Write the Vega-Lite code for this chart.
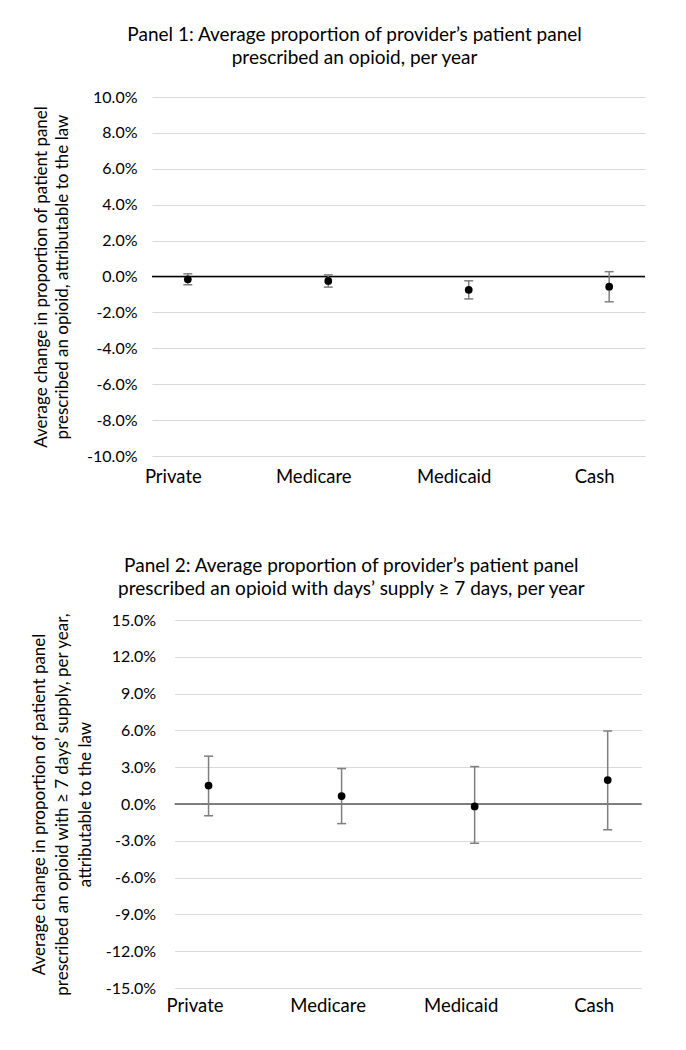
{
  "$schema": "https://vega.github.io/schema/vega-lite/v6.json",
  "background": "white",
  "padding": {"left": 30, "top": 26, "right": 20, "bottom": 10},
  "spacing": 71,
  "center": true,
  "config": {
    "font": "Lato",
    "view": {"stroke": null},
    "axis": {"labelFont": "Lato", "labelColor": "#000", "titleFont": "Lato", "titleColor": "#000", "titleFontWeight": "normal", "labelOverlap": false},
    "title": {"font": "Lato", "fontSize": 19, "fontWeight": "normal", "color": "#000", "anchor": "middle", "frame": "bounds", "lineHeight": 23}
  },
  "datasets": {
    "p1": [
      {"payer": "Private", "est": -0.16, "lo": -0.46, "hi": 0.15},
      {"payer": "Medicare", "est": -0.25, "lo": -0.59, "hi": 0.09},
      {"payer": "Medicaid", "est": -0.74, "lo": -1.25, "hi": -0.24},
      {"payer": "Cash", "est": -0.57, "lo": -1.41, "hi": 0.27}
    ],
    "p2": [
      {"payer": "Private", "est": 1.5, "lo": -0.96, "hi": 3.9},
      {"payer": "Medicare", "est": 0.65, "lo": -1.6, "hi": 2.89},
      {"payer": "Medicaid", "est": -0.2, "lo": -3.2, "hi": 3.05},
      {"payer": "Cash", "est": 1.95, "lo": -2.1, "hi": 5.95}
    ],
    "zero": [{"v": 0}]
  },
  "vconcat": [
    {
      "width": 493,
      "height": 359,
      "title": {"text": ["Panel 1: Average proportion of provider’s patient panel", "prescribed an opioid, per year"], "offset": 21, "dx": 6},
      "resolve": {"axis": {"y": "independent"}},
      "layer": [
        {
          "data": {"name": "p1"},
          "mark": {"type": "point", "opacity": 0},
          "encoding": {
            "x": {"field": "payer", "type": "ordinal", "sort": null, "scale": {"type": "point", "padding": 0.255},
              "axis": {"title": null, "domain": false, "ticks": false, "grid": false, "labelAngle": 0, "labelOffset": -15, "labelPadding": 11, "labelFontSize": 18.5}},
            "y": {"field": "est", "type": "quantitative", "scale": {"domain": [-10, 10], "nice": false, "zero": false},
              "axis": {"values": [-10, -8, -6, -4, -2, 0, 2, 4, 6, 8, 10], "tickCount": 11, "labelExpr": "(datum.value < 0 ? '-' : '') + format(abs(datum.value), '.1f') + '%'",
                "domain": false, "ticks": false, "grid": true, "gridColor": "#d9d9d9", "gridWidth": 1, "labelFontSize": 16, "labelPadding": 15,
                "title": ["Average change in proportion of patient panel", "prescribed an opioid,  attributable to the law"], "titleFontSize": 17, "titleLineHeight": 21.5, "titlePadding": 15}}
          }
        },
        {
          "data": {"name": "zero"},
          "mark": {"type": "rule", "color": "#000", "strokeWidth": 1.3},
          "encoding": {"y": {"field": "v", "type": "quantitative",
            "axis": {"orient": "right", "title": null, "labels": false, "domain": false, "grid": false, "ticks": true, "tickSize": 20, "tickColor": "#ffffff", "tickOpacity": 0, "values": [0]}}}
        },
        {
          "data": {"name": "p1"},
          "mark": {"type": "rule", "color": "#7f7f7f", "strokeWidth": 1.5},
          "encoding": {
            "x": {"field": "payer", "type": "ordinal", "sort": null},
            "y": {"field": "lo", "type": "quantitative", "axis": null},
            "y2": {"field": "hi"}
          }
        },
        {
          "data": {"name": "p1"},
          "mark": {"type": "tick", "color": "#7f7f7f", "size": 9, "thickness": 1.5, "opacity": 1},
          "encoding": {"x": {"field": "payer", "type": "ordinal", "sort": null}, "y": {"field": "lo", "type": "quantitative", "axis": null}}
        },
        {
          "data": {"name": "p1"},
          "mark": {"type": "tick", "color": "#7f7f7f", "size": 9, "thickness": 1.5, "opacity": 1},
          "encoding": {"x": {"field": "payer", "type": "ordinal", "sort": null}, "y": {"field": "hi", "type": "quantitative", "axis": null}}
        },
        {
          "data": {"name": "p1"},
          "mark": {"type": "point", "filled": true, "color": "#000", "size": 60, "opacity": 1},
          "encoding": {"x": {"field": "payer", "type": "ordinal", "sort": null}, "y": {"field": "est", "type": "quantitative", "axis": null}}
        }
      ]
    },
    {
      "width": 467,
      "height": 368,
      "title": {"text": ["Panel 2: Average proportion of provider’s patient panel", "prescribed an opioid with days’ supply ≥ 7 days, per year"], "offset": 13, "dx": 15},
      "layer": [
        {
          "data": {"name": "p2"},
          "mark": {"type": "point", "opacity": 0},
          "encoding": {
            "x": {"field": "payer", "type": "ordinal", "sort": null, "scale": {"type": "point", "padding": 0.255},
              "axis": {"title": null, "domain": false, "ticks": false, "grid": false, "labelAngle": 0, "labelOffset": -14, "labelPadding": 8, "labelFontSize": 18.5}},
            "y": {"field": "est", "type": "quantitative", "scale": {"domain": [-15, 15], "nice": false, "zero": false},
              "axis": {"values": [-15, -12, -9, -6, -3, 0, 3, 6, 9, 12, 15], "tickCount": 11, "labelExpr": "(datum.value < 0 ? '-' : '') + format(abs(datum.value), '.1f') + '%'",
                "domain": false, "ticks": false, "grid": true, "gridColor": "#d9d9d9", "gridWidth": 1, "labelFontSize": 16, "labelPadding": 19,
                "title": ["Average change in proportion of patient panel", "prescribed an opioid with ≥ 7 days’ supply, per year,", "attributable to the law"], "titleFontSize": 17, "titleLineHeight": 23, "titlePadding": 11}}
          }
        },
        {
          "data": {"name": "zero"},
          "mark": {"type": "rule", "color": "#595959", "strokeWidth": 1.5},
          "encoding": {"y": {"field": "v", "type": "quantitative"}}
        },
        {
          "data": {"name": "p2"},
          "mark": {"type": "rule", "color": "#7f7f7f", "strokeWidth": 1.5},
          "encoding": {
            "x": {"field": "payer", "type": "ordinal", "sort": null},
            "y": {"field": "lo", "type": "quantitative"},
            "y2": {"field": "hi"}
          }
        },
        {
          "data": {"name": "p2"},
          "mark": {"type": "tick", "color": "#7f7f7f", "size": 9, "thickness": 1.5, "opacity": 1},
          "encoding": {"x": {"field": "payer", "type": "ordinal", "sort": null}, "y": {"field": "lo", "type": "quantitative"}}
        },
        {
          "data": {"name": "p2"},
          "mark": {"type": "tick", "color": "#7f7f7f", "size": 9, "thickness": 1.5, "opacity": 1},
          "encoding": {"x": {"field": "payer", "type": "ordinal", "sort": null}, "y": {"field": "hi", "type": "quantitative"}}
        },
        {
          "data": {"name": "p2"},
          "mark": {"type": "point", "filled": true, "color": "#000", "size": 60, "opacity": 1},
          "encoding": {"x": {"field": "payer", "type": "ordinal", "sort": null}, "y": {"field": "est", "type": "quantitative"}}
        }
      ]
    }
  ]
}
